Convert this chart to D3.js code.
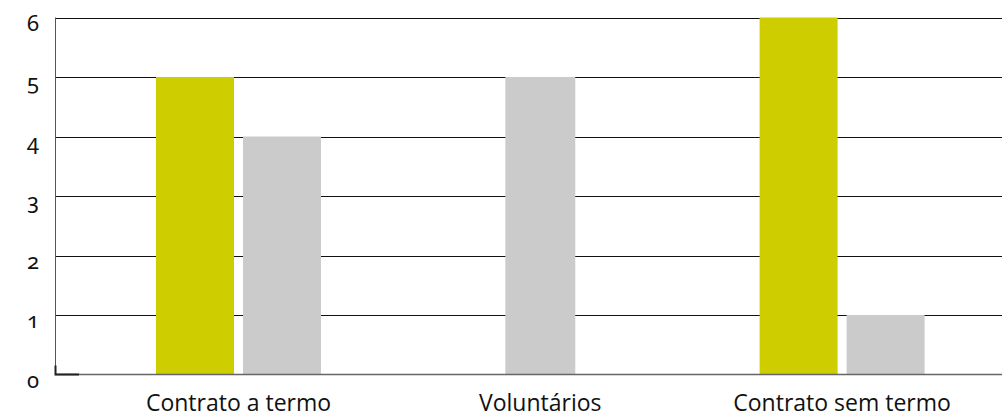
<!DOCTYPE html>
<meta charset=utf-8>
<style>
body { margin: 0; background: white }
.ylab { font-family: "Noto Sans", "Open Sans", sans-serif; font-variant-numeric: oldstyle-nums; font-size: 22px; fill: #111 }
.xlab { font-family: "Open Sans", sans-serif; font-size: 23px; fill: #111 }
</style>
<script src="https://cdn.jsdelivr.net/npm/d3@7"></script>
<body>
<svg width=1002 height=417 id=chart></svg>
<script>
const categories = ["Contrato a termo", "Voluntários", "Contrato sem termo"];
const valuesA = [5, null, 6];
const valuesB = [4, 5, 1];
const yTicks = [0, 1, 2, 3, 4, 5, 6];
const colors = {A: "#cdcd00", B: "#cbcbcb"};

const plot = {left: 55, right: 1002, top: 17.5, bottom: 374.5};
const svg = d3.select(chart);

const y = d3.scaleLinear().domain([0, 6]).range([plot.bottom, plot.top]);
const x = d3.scaleBand().domain(categories).range([87.6, 993]);
const barW = 78, barGap = 9;

// gridlines
svg.append("g")
	.attr("stroke", "#111")
	.attr("stroke-width", 1)
	.selectAll("line")
	.data(yTicks.filter(t => t > 0))
	.join("line")
		.attr("x1", plot.left)
		.attr("x2", plot.right)
		.attr("y1", d => Math.round(y(d)) + 0.5)
		.attr("y2", d => Math.round(y(d)) + 0.5);

// bars (a missing value leaves the other bar centred)
const rows = categories.map((c, i) => ({c, vals: [["A", valuesA[i]], ["B", valuesB[i]]].filter(d => d[1] != null)}));
const groups = svg.append("g").selectAll("g")
	.data(rows)
	.join("g")
		.attr("transform", d => `translate(${x(d.c) + x.bandwidth() / 2},0)`);
groups.each(function (d) {
	const w = d.vals.length * (barW + barGap) - barGap;
	const inner = d3.scaleBand().domain(d.vals.map(v => v[0])).range([-w / 2, w / 2]).paddingInner(barGap / (barW + barGap));
	d3.select(this).selectAll("rect")
		.data(d.vals)
		.join("rect")
			.attr("x", v => inner(v[0]))
			.attr("width", inner.bandwidth())
			.attr("y", v => y(v[1]))
			.attr("height", v => y(0) - y(v[1]))
			.attr("fill", v => colors[v[0]]);
});

// axes lines
svg.append("line")
	.attr("x1", plot.left + 0.5).attr("x2", plot.left + 0.5)
	.attr("y1", plot.top).attr("y2", plot.bottom)
	.attr("stroke", "#555");
svg.append("line")
	.attr("x1", plot.left).attr("x2", plot.right)
	.attr("y1", plot.bottom).attr("y2", plot.bottom)
	.attr("stroke", "#666").attr("stroke-width", 1.5);
svg.append("path")
	.attr("d", `M${plot.left + 0.5},${plot.bottom - 9}V${plot.bottom}H${plot.left + 24}`)
	.attr("fill", "none")
	.attr("stroke", "#222")
	.attr("stroke-width", 2);

// y labels
svg.append("g").selectAll("text")
	.data(yTicks)
	.join("text")
		.attr("class", "ylab")
		.attr("x", 39)
		.attr("y", d => y(d) + 13)
		.attr("text-anchor", "end")
		.text(d => d);

// x labels
svg.append("g").selectAll("text")
	.data(categories)
	.join("text")
		.attr("class", "xlab")
		.attr("x", d => x(d) + x.bandwidth() / 2)
		.attr("y", 411)
		.attr("text-anchor", "middle")
		.text(d => d);
</script>
</body>
